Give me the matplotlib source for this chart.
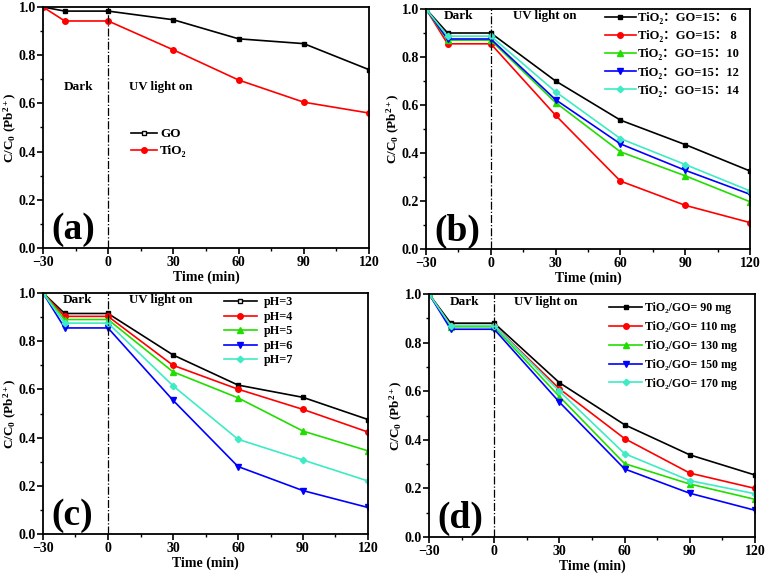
import matplotlib
matplotlib.use('Agg')
import matplotlib.pyplot as plt
from matplotlib.ticker import MultipleLocator

plt.rcParams['font.family'] = ['Liberation Serif', 'DejaVu Serif', 'Noto Sans CJK SC']
plt.rcParams['font.weight'] = 'bold'
plt.rcParams['axes.labelweight'] = 'bold'
plt.rcParams['mathtext.fontset'] = 'custom'
plt.rcParams['mathtext.rm'] = 'Liberation Serif:bold'
plt.rcParams['mathtext.bf'] = 'Liberation Serif:bold'
plt.rcParams['mathtext.it'] = 'Liberation Serif:italic:bold'
plt.rcParams['mathtext.default'] = 'bf'

# time points (min)
t = [-30, -20, 0, 30, 60, 90, 120]

# (a)
a_labels = ['GO', 'TiO₂']
a_go = [1.0, 0.983, 0.983, 0.947, 0.868, 0.848, 0.74]
a_tio2 = [1.0, 0.942, 0.942, 0.822, 0.697, 0.605, 0.56]

# (b) TiO2:GO ratio
b_labels = ['TiO₂：GO=15： 6', 'TiO₂：GO=15： 8', 'TiO₂：GO=15：10',
            'TiO₂：GO=15：12', 'TiO₂：GO=15：14']
b_6 = [1.0, 0.90, 0.90, 0.70, 0.537, 0.435, 0.325]
b_8 = [1.0, 0.855, 0.855, 0.557, 0.283, 0.182, 0.11]
b_10 = [1.0, 0.87, 0.87, 0.61, 0.405, 0.305, 0.197]
b_12 = [1.0, 0.875, 0.875, 0.622, 0.438, 0.328, 0.228]
b_14 = [1.0, 0.887, 0.887, 0.655, 0.46, 0.352, 0.242]

# (c) pH
c_labels = ['pH=3', 'pH=4', 'pH=5', 'pH=6', 'pH=7']
c_3 = [1.0, 0.915, 0.915, 0.743, 0.618, 0.567, 0.475]
c_4 = [1.0, 0.903, 0.903, 0.70, 0.601, 0.517, 0.423]
c_5 = [1.0, 0.89, 0.89, 0.673, 0.565, 0.427, 0.345]
c_6 = [1.0, 0.855, 0.855, 0.555, 0.28, 0.18, 0.11]
c_7 = [1.0, 0.875, 0.875, 0.615, 0.393, 0.307, 0.22]

# (d) dosage
d_labels = ['TiO₂/GO= 90 mg', 'TiO₂/GO= 110 mg', 'TiO₂/GO= 130 mg',
            'TiO₂/GO= 150 mg', 'TiO₂/GO= 170 mg']
d_90 = [1.0, 0.88, 0.88, 0.635, 0.462, 0.338, 0.255]
d_110 = [1.0, 0.87, 0.87, 0.61, 0.405, 0.263, 0.20]
d_130 = [1.0, 0.865, 0.865, 0.578, 0.302, 0.218, 0.155]
d_150 = [1.0, 0.855, 0.855, 0.555, 0.28, 0.18, 0.11]
d_170 = [1.0, 0.87, 0.87, 0.60, 0.343, 0.232, 0.178]

colors = ['black', '#FF0000', '#22DD00', '#0000FF', '#3DEBC4']
markers = ['s', 'o', '^', 'v', 'D']
msizes = [3.5, 4, 4, 4, 3.3]

fig = plt.figure(figsize=(7.67, 5.75), dpi=100)
W, H = 767.0, 575.0
# axes boxes in pixels: left, top, right, bottom
boxes = [(43, 7, 369, 248), (426, 9, 750, 249),
         (43, 293, 368, 534), (429, 294, 755, 537)]
axs = [fig.add_axes([l / W, 1 - b / H, (r - l) / W, (b - tp) / H]) for l, tp, r, b in boxes]


def style(ax, letter, dark_xy, uv_xy):
    ax.set_xlim(-30, 120)
    ax.set_ylim(0, 1.0)
    ax.set_xticks([-30, 0, 30, 60, 90, 120])
    ax.xaxis.set_minor_locator(MultipleLocator(15))
    ax.yaxis.set_major_locator(MultipleLocator(0.2))
    ax.yaxis.set_minor_locator(MultipleLocator(0.1))
    ax.tick_params(which='major', direction='out', length=4, width=1.2, labelsize=10, pad=1.5)
    ax.tick_params(axis='y', which='major', pad=1)
    ax.tick_params(which='minor', direction='out', length=2.5, width=1.0)
    ax.yaxis.set_major_formatter(plt.FormatStrFormatter('%.1f'))
    for sp in ax.spines.values():
        sp.set_linewidth(1.3)
    ax.set_xlabel('Time (min)', fontsize=10, labelpad=1)
    ax.set_ylabel('C/C$_0$ (Pb$^{2+}$)', fontsize=9.5, labelpad=0)
    ax.axvline(0, color='black', linestyle='-.', linewidth=0.9)
    ax.text(0.025, 0.075, letter, transform=ax.transAxes, fontsize=27,
            fontweight='bold', va='center', ha='left')
    ax.text(dark_xy[0], dark_xy[1], 'Dark', fontsize=9.5, va='center',
            transform=ax.get_xaxis_transform())
    ax.text(uv_xy[0], uv_xy[1], 'UV light on', fontsize=9.3, va='center',
            transform=ax.get_xaxis_transform())


def plot_series(ax, series, labels):
    for i, (y, lab) in enumerate(zip(series, labels)):
        ax.plot(t, y, color=colors[i], marker=markers[i], markersize=msizes[i],
                linewidth=1.2, label=lab)


# (a)
ax = axs[0]
plot_series(ax, [a_go, a_tio2], a_labels)
style(ax, '(a)', (-20.3, 0.668), (9.6, 0.668))
leg = ax.legend(loc='upper left', bbox_to_anchor=(0.25, 0.525), frameon=False,
                fontsize=9.5, handlelength=2.0, handletextpad=0.2, labelspacing=0.35,
                borderpad=0)
leg.legend_handles[0].set_markerfacecolor('white')

# (b)
ax = axs[1]
plot_series(ax, [b_6, b_8, b_10, b_12, b_14], b_labels)
style(ax, '(b)', (-21.7, 0.97), (10.3, 0.97))
ax.legend(loc='upper left', bbox_to_anchor=(0.532, 1.013), frameon=False,
          fontsize=9, handlelength=2.5, handletextpad=0.15, labelspacing=0.49,
          borderpad=0)

# (c)
ax = axs[2]
plot_series(ax, [c_3, c_4, c_5, c_6, c_7], c_labels)
style(ax, '(c)', (-20.8, 0.97), (9.6, 0.97))
leg = ax.legend(loc='upper left', bbox_to_anchor=(0.538, 1.012), frameon=False,
                fontsize=8.8, handlelength=2.7, handletextpad=0.6, labelspacing=0.21,
                borderpad=0)
leg.legend_handles[0].set_markerfacecolor('white')

# (d)
ax = axs[3]
plot_series(ax, [d_90, d_110, d_130, d_150, d_170], d_labels)
style(ax, '(d)', (-20.3, 0.967), (9.1, 0.967))
ax.legend(loc='upper left', bbox_to_anchor=(0.535, 0.99), frameon=False,
          fontsize=8.6, handlelength=2.7, handletextpad=0.25, labelspacing=0.57,
          borderpad=0)

fig.savefig('out.png', dpi=100)
